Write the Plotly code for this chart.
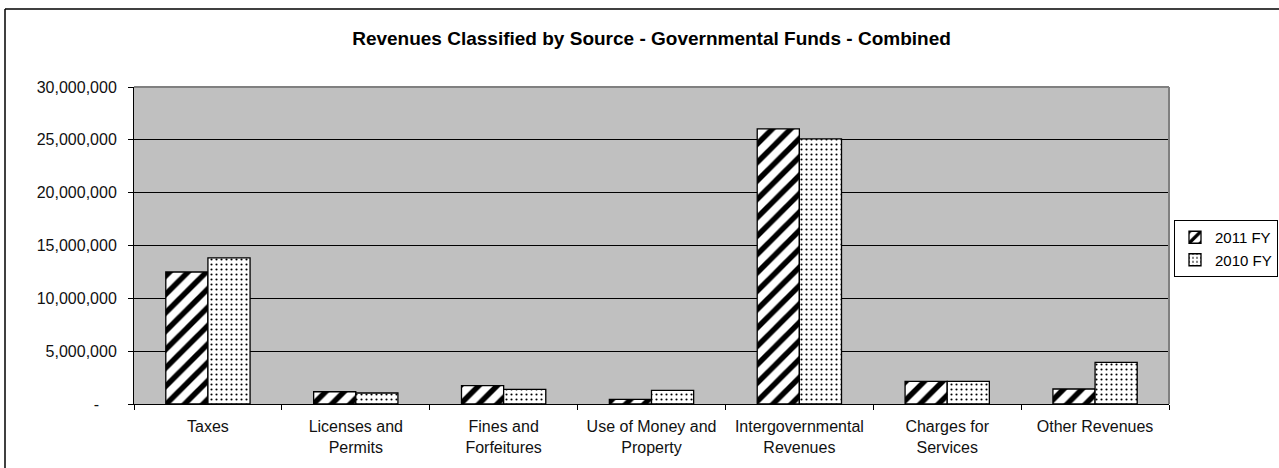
import plotly.graph_objects as go

categories = [
    "Taxes",
    "Licenses and<br>Permits",
    "Fines and<br>Forfeitures",
    "Use of Money and<br>Property",
    "Intergovernmental<br>Revenues",
    "Charges for<br>Services",
    "Other Revenues",
]
fy2011 = [12490000, 1160000, 1730000, 440000, 26030000, 2140000, 1420000]
fy2010 = [13820000, 1040000, 1390000, 1290000, 25090000, 2140000, 3940000]

y_ticks = [0, 5000000, 10000000, 15000000, 20000000, 25000000, 30000000]
y_tick_labels = ["-\u00a0\u00a0\u00a0\u00a0", "5,000,000", "10,000,000", "15,000,000",
                 "20,000,000", "25,000,000", "30,000,000"]

W, H = 1279, 468
L, R, T, B = 134, 110, 87, 64
pw, ph = W - L - R, H - T - B
FONT = "Arial, Liberation Sans, sans-serif"

fig = go.Figure()
fig.add_trace(go.Bar(
    name="2011 FY", x=categories, y=fy2011,
    marker=dict(color="white", line=dict(color="black", width=1.3),
                pattern=dict(shape="/", fgcolor="black", bgcolor="white",
                             fgopacity=1, size=13, solidity=0.42)),
))
fig.add_trace(go.Bar(
    name="2010 FY", x=categories, y=fy2010,
    marker=dict(color="white", line=dict(color="black", width=1.3),
                pattern=dict(shape=".", fgcolor="black", bgcolor="white",
                             fgopacity=1, size=5, solidity=0.14)),
))


def px_x(x):
    return (x - L) / pw


def px_y(y):
    return (H - B - y) / ph


fig.update_layout(
    width=W, height=H,
    margin=dict(l=L, r=R, t=T, b=B, autoexpand=False),
    paper_bgcolor="white",
    plot_bgcolor="#C0C0C0",
    barmode="group",
    bargap=0.43,
    bargroupgap=0,
    font=dict(family=FONT, size=16, color="black"),
    title=dict(text="<b>Revenues Classified by Source - Governmental Funds - Combined</b>",
               x=0.5, xref="paper", xanchor="center",
               y=1 - 38 / H, yref="container", yanchor="middle",
               font=dict(family=FONT, size=19, color="black")),
    showlegend=True,
    legend=dict(xref="container", yref="container",
                x=1278 / W, y=1 - 220 / H, xanchor="right", yanchor="top",
                bgcolor="white", bordercolor="black", borderwidth=1,
                font=dict(family=FONT, size=15, color="black"),
                tracegroupgap=0, itemwidth=30),
    xaxis=dict(
        showline=True, linecolor="black", linewidth=1,
        ticks="outside", ticklen=5, tickcolor="black",
        tickson="boundaries", showgrid=False,
        ticklabelstandoff=8,
        tickfont=dict(family=FONT, size=16, color="#111111"),
    ),
    yaxis=dict(
        range=[0, 30000000],
        tickvals=y_ticks, ticktext=y_tick_labels,
        showline=True, linecolor="black", linewidth=1,
        ticks="outside", ticklen=5, tickcolor="black",
        ticklabelstandoff=8,
        showgrid=True, gridcolor="black", gridwidth=1,
        zeroline=False,
        tickfont=dict(family=FONT, size=16, color="#111111"),
    ),
    shapes=[
        # plot-area frame on top and right
        dict(type="line", xref="paper", yref="paper", x0=0, x1=1, y0=1, y1=1,
             line=dict(color="#808080", width=2)),
        dict(type="line", xref="paper", yref="paper", x0=1, x1=1, y0=0, y1=1,
             line=dict(color="#808080", width=2)),
        # chart border
        dict(type="line", xref="paper", yref="paper",
             x0=px_x(5), x1=px_x(W + 10), y0=px_y(9), y1=px_y(9),
             line=dict(color="black", width=1.5)),
        dict(type="line", xref="paper", yref="paper",
             x0=px_x(5), x1=px_x(5), y0=px_y(9), y1=px_y(H + 10),
             line=dict(color="black", width=1.5)),
    ],
)

fig.write_html("out.html")
